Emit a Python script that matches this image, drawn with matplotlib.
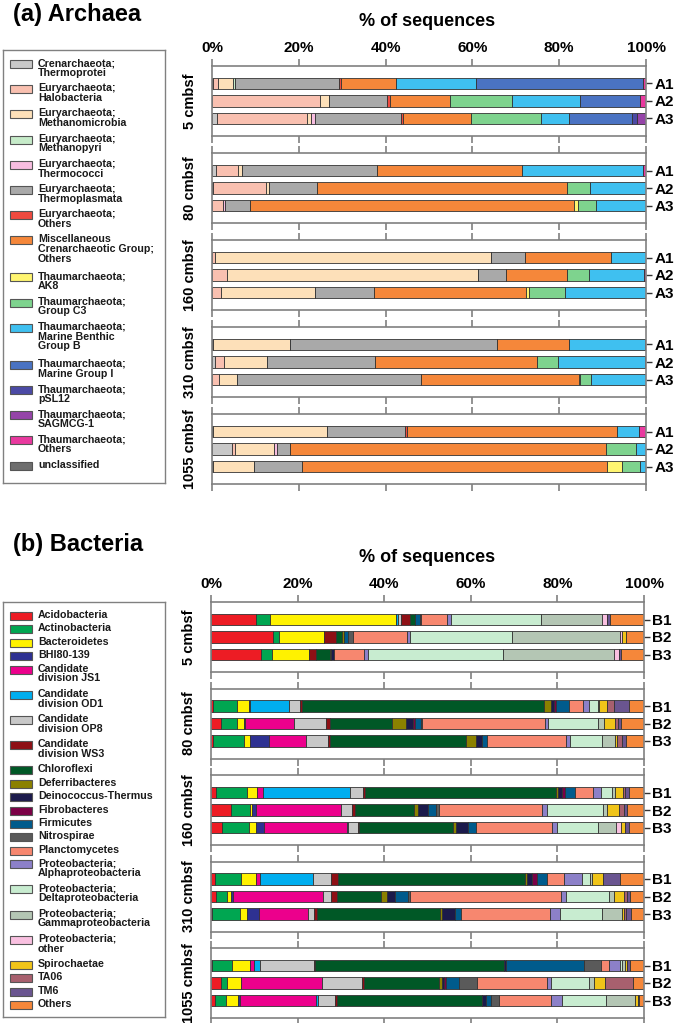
import matplotlib
matplotlib.use("Agg")
import matplotlib.pyplot as plt
from matplotlib.patches import Rectangle

plt.rcParams['font.family'] = ['Liberation Sans', 'DejaVu Sans']

W, H = 675, 1023

depths = ["5 cmbsf", "80 cmbsf", "160 cmbsf", "310 cmbsf", "1055 cmbsf"]
arch_samples = ["A1", "A2", "A3"]
bac_samples = ["B1", "B2", "B3"]

# ---- Archaea: % of sequences, rows = 5cm A1,A2,A3, 80cm A1..A3, 160cm, 310cm, 1055cm
arch_labels = [
    "Crenarchaeota;\nThermoprotei", "Euryarchaeota;\nHalobacteria",
    "Euryarchaeota;\nMethanomicrobia", "Euryarchaeota;\nMethanopyri",
    "Euryarchaeota;\nThermococci", "Euryarchaeota;\nThermoplasmata",
    "Euryarchaeota;\nOthers", "Miscellaneous\nCrenarchaeotic Group;\nOthers",
    "Thaumarchaeota;\nAK8", "Thaumarchaeota;\nGroup C3",
    "Thaumarchaeota;\nMarine Benthic\nGroup B", "Thaumarchaeota;\nMarine Group I",
    "Thaumarchaeota;\npSL12", "Thaumarchaeota;\nSAGMCG-1",
    "Thaumarchaeota;\nOthers", "unclassified",
]
arch_colors = ['#c8c8c8', '#f9c0b0', '#fde0b9', '#c6ebc9', '#f7bde0', '#a9a9a9',
               '#ef4a3f', '#f5873a', '#fff570', '#7ed38e', '#3fc0f0', '#4a73c3',
               '#4b4aa5', '#9544a8', '#e9399f', '#6e6e6e']

thermoprotei = [0.3, 0, 1.1, 0.9, 0.3, 0, 0, 0, 0, 0.3, 0.6, 0, 0.3, 4.5, 0.3]
halobacteria = [1.2, 24.9, 20.7, 5.1, 12.1, 2.5, 0.8, 3.5, 2.0, 0, 2.2, 1.6, 0, 0.8, 0]
methanomicrobia = [3.3, 2.1, 1.0, 0.9, 0.8, 0, 63.6, 57.9, 21.7, 17.7, 9.8, 4.2, 26.1, 9.0, 9.3]
methanopyri = [0.6, 0, 0, 0, 0, 0, 0, 0, 0, 0, 0, 0, 0, 0, 0]
thermococci = [0, 0, 0.9, 0, 0, 0.5, 0, 0, 0, 0, 0, 0, 0, 0.6, 0]
thermoplasmata = [24.0, 13.3, 19.8, 31.2, 11.1, 5.8, 7.8, 6.5, 13.7, 47.7, 25.0, 42.3, 18.0, 3.1, 11.1]
eury_others = [0.3, 0.8, 0.5, 0, 0, 0, 0, 0, 0, 0, 0, 0, 0.4, 0, 0]
mcg = [12.8, 13.8, 15.7, 33.3, 57.6, 74.7, 19.7, 14.0, 34.9, 16.4, 37.2, 36.5, 48.4, 72.7, 70.4]
ak8 = [0, 0, 0, 0, 0, 0.8, 0, 0, 0.6, 0, 0, 0.2, 0, 0, 3.4]
group_c3 = [0, 14.2, 16.0, 0, 5.2, 4.1, 0, 5.1, 8.4, 0, 4.9, 2.5, 0, 7.1, 4.2]
mbg_b = [18.4, 15.7, 6.5, 28.0, 12.9, 11.6, 8.1, 12.6, 18.6, 17.5, 19.9, 12.7, 5.2, 2.2, 1.3]
mg_i = [38.7, 13.8, 14.6, 0, 0, 0, 0, 0, 0, 0, 0, 0, 0, 0, 0]
psl12 = [0, 0, 1.2, 0, 0, 0, 0, 0, 0, 0, 0, 0, 0, 0, 0]
sagmcg1 = [0, 0, 2.0, 0, 0, 0, 0, 0, 0, 0, 0, 0, 0, 0, 0]
thaum_others = [0.6, 1.4, 0, 0.6, 0, 0, 0, 0.5, 0, 0.3, 0.3, 0, 1.5, 0, 0]
unclassified = [0] * 15

arch_series = [thermoprotei, halobacteria, methanomicrobia, methanopyri, thermococci,
               thermoplasmata, eury_others, mcg, ak8, group_c3, mbg_b, mg_i, psl12,
               sagmcg1, thaum_others, unclassified]

# ---- Bacteria
bac_labels = [
    "Acidobacteria", "Actinobacteria", "Bacteroidetes", "BHI80-139",
    "Candidate\ndivision JS1", "Candidate\ndivision OD1", "Candidate\ndivision OP8",
    "Candidate\ndivision WS3", "Chloroflexi", "Deferribacteres", "Deinococcus-Thermus",
    "Fibrobacteres", "Firmicutes", "Nitrospirae", "Planctomycetes",
    "Proteobacteria;\nAlphaproteobacteria", "Proteobacteria;\nDeltaproteobacteria",
    "Proteobacteria;\nGammaproteobacteria", "Proteobacteria;\nother",
    "Spirochaetae", "TA06", "TM6", "Others",
]
bac_colors = ['#ed1c24', '#00a651', '#fff200', '#2e3192', '#ec008c', '#00aeef',
              '#c8c8c8', '#8e1015', '#005826', '#8b8100', '#1b1a4b', '#7b0046',
              '#005b8c', '#5a5a5a', '#f7876f', '#8c80c8', '#c8ecd0', '#b4c6b4',
              '#f9c0e0', '#f0c419', '#a8606e', '#6a5590', '#f5873a']

acido = [10.4, 14.4, 11.5, 0.5, 2.2, 0.5, 1.1, 4.5, 2.5, 0.9, 1.1, 0.3, 0.3, 2.3, 1.0]
actino = [3.2, 1.4, 2.7, 5.5, 3.7, 7.2, 7.3, 4.4, 6.3, 6.0, 2.5, 6.3, 4.6, 1.5, 2.5]
bactero = [29.1, 10.4, 8.5, 2.7, 1.7, 1.4, 2.2, 0.6, 1.5, 3.5, 1.0, 1.8, 4.2, 3.2, 2.8]
bhi = [0, 0, 0, 0.3, 0.3, 4.3, 0, 0.9, 2.0, 0, 0.5, 2.7, 0, 0, 0.5]
js1 = [0, 0, 0, 0, 11.2, 8.5, 1.4, 19.6, 19.0, 1.0, 20.9, 11.3, 0.9, 18.7, 17.5]
od1 = [0.5, 0, 0, 9.0, 0, 0, 20.2, 0, 0.4, 12.1, 0, 0, 1.4, 0, 0.4]
op8 = [0.7, 0, 0, 2.5, 7.4, 5.2, 2.9, 2.5, 2.2, 4.1, 1.8, 1.4, 12.3, 9.2, 3.9]
ws3 = [2.1, 2.7, 1.5, 0.6, 0.9, 0.4, 0.5, 0.8, 0.3, 1.7, 1.4, 0.7, 0.4, 0.5, 0.4]
chloro = [1.0, 1.3, 3.2, 55.8, 14.3, 31.3, 44.1, 13.5, 21.8, 43.1, 10.0, 28.3, 43.5, 17.2, 33.5]
deferri = [0, 0.6, 0.3, 1.7, 3.4, 2.4, 0.5, 1.0, 0.6, 0.5, 1.5, 0.5, 0, 0.7, 0]
deino = [0, 0, 0.8, 0.5, 1.5, 1.5, 0.9, 2.3, 2.8, 1.2, 1.8, 3.1, 0.5, 0.5, 1.1]
fibro = [0, 0, 0, 0.5, 0.4, 0, 0.8, 0, 0, 1.1, 0, 0, 0, 0.5, 0]
firmi = [1.3, 0.8, 0, 3.1, 1.4, 1.1, 2.2, 1.9, 1.8, 2.4, 3.1, 1.4, 18.1, 3.1, 1.0]
nitro = [0.2, 1.3, 0, 0, 0.3, 0, 0, 0.5, 0, 0, 0.4, 0, 3.8, 4.1, 1.8]
plancto = [5.9, 12.3, 6.9, 3.2, 28.4, 18.3, 4.1, 23.9, 17.5, 3.8, 34.8, 20.5, 1.9, 16.2, 12.1]
alpha = [0.9, 0.8, 1.0, 1.5, 0.7, 0.8, 1.9, 1.2, 1.3, 4.2, 1.3, 2.2, 2.6, 0.9, 2.5]
delta = [20.8, 23.7, 31.0, 1.9, 11.5, 7.5, 2.7, 12.8, 9.4, 1.8, 9.8, 9.8, 0.5, 8.7, 10.2]
gamma = [14.2, 24.9, 25.7, 0.4, 1.5, 2.8, 0.5, 0.9, 4.1, 0.6, 1.2, 4.6, 0.5, 1.3, 6.8]
proteo_other = [1.1, 0.5, 1.2, 0, 0, 0, 0, 0, 1.2, 0, 0, 0, 0, 0, 0]
spiro = [0, 0.9, 0, 1.7, 2.5, 0.5, 2.0, 2.8, 1.0, 2.5, 2.3, 0.5, 0.6, 2.5, 0.5]
ta06 = [0, 0, 0, 1.6, 0.8, 1.2, 0.3, 1.1, 0, 0, 0.7, 0.4, 0, 6.4, 0]
tm6 = [0.6, 0, 0.4, 3.6, 0.7, 0.9, 1.1, 0.8, 0.9, 3.9, 0.8, 1.2, 0.7, 0, 0.4]
others = [7.9, 4.1, 5.4, 3.4, 5.2, 4.2, 3.4, 3.9, 3.4, 5.5, 3.2, 3.0, 3.2, 2.6, 1.1]

bac_series = [acido, actino, bactero, bhi, js1, od1, op8, ws3, chloro, deferri, deino,
              fibro, firmi, nitro, plancto, alpha, delta, gamma, proteo_other, spiro,
              ta06, tm6, others]

FRAME = '#808080'

fig = plt.figure(figsize=(W / 100, H / 100), dpi=100)


def rect(x0, y0, x1, y1):
    return [x0 / W, 1 - y1 / H, (x1 - x0) / W, (y1 - y0) / H]


def draw_panel(x0, x1, yc, series, colors, rows, samples, depth, first):
    ax = fig.add_axes(rect(x0, yc - 35, x1, yc + 35))
    totals = [sum(s[r] for s in series) for r in rows]
    left = [0.0] * 3
    for s, c in zip(series, colors):
        w = [s[r] / t * 100 for r, t in zip(rows, totals)]
        ax.barh([1, 2, 3], w, left=left, height=0.68, color=c,
                edgecolor='#333333', linewidth=0.6)
        left = [a + b for a, b in zip(left, w)]
    ax.set_xlim(0, 100)
    ax.set_ylim(4, 0)
    ax.set_xticks([0, 20, 40, 60, 80, 100])
    ax.set_xticklabels(['0%', '20%', '40%', '60%', '80%', '100%'],
                       fontsize=11, fontweight='bold')
    ax.xaxis.set_ticks_position('both')
    ax.tick_params(axis='x', direction='out', length=5, width=1.2, color=FRAME,
                   labeltop=first, labelbottom=False, pad=3)
    ax.yaxis.set_ticks_position('right')
    ax.set_yticks([1, 2, 3])
    ax.set_yticklabels(samples, fontsize=11, fontweight='bold')
    ax.tick_params(axis='y', direction='out', length=4, width=1.0, color='#333333', pad=2)
    for sp in ax.spines.values():
        sp.set_color(FRAME)
        sp.set_linewidth(1.2)
    ax.text(-0.05, 0.5, depth, transform=ax.transAxes, rotation=90,
            ha='center', va='center', fontsize=10.5, fontweight='bold')
    return ax


def draw_legend(top, bottom, labels, colors):
    ax = fig.add_axes(rect(3, top, 165, bottom))
    ax.set_xlim(0, 162)
    ax.set_ylim(bottom - top, 0)
    ax.set_xticks([])
    ax.set_yticks([])
    for sp in ax.spines.values():
        sp.set_color(FRAME)
        sp.set_linewidth(1.0)
    y = 14
    for lab, col in zip(labels, colors):
        ax.add_patch(Rectangle((7, y - 4), 22, 8, facecolor=col,
                               edgecolor='#555555', linewidth=0.8))
        ax.text(35, y - 6, lab, ha='left', va='top', fontsize=7.7,
                fontweight='bold', linespacing=0.98, color='#1a1a1a')
        n = lab.count('\n') + 1
        y += 13.4 + 11.8 * (n - 1)


# Archaea
fig.text(13 / W, 1 - 14 / H, '(a) Archaea', fontsize=17, fontweight='bold', va='center')
fig.text(427 / W, 1 - 22 / H, '% of sequences', fontsize=13, fontweight='bold',
         ha='center', va='center')
for i, d in enumerate(depths):
    draw_panel(212, 646, 101 + 87 * i, arch_series, arch_colors,
               [3 * i, 3 * i + 1, 3 * i + 2], arch_samples, d, i == 0)
draw_legend(50, 483, arch_labels, arch_colors)

# Bacteria
fig.text(13 / W, 1 - 545 / H, '(b) Bacteria', fontsize=17, fontweight='bold', va='center')
fig.text(427 / W, 1 - 558 / H, '% of sequences', fontsize=13, fontweight='bold',
         ha='center', va='center')
for i, d in enumerate(depths):
    draw_panel(211, 644, 637 + 86.5 * i, bac_series, bac_colors,
               [3 * i, 3 * i + 1, 3 * i + 2], bac_samples, d, i == 0)
draw_legend(602, 1017, bac_labels, bac_colors)

fig.savefig('out.png', dpi=100)
